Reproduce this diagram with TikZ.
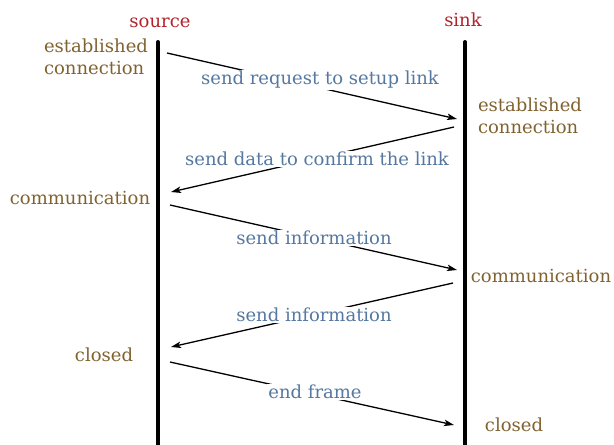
\documentclass[tikz,border=0pt]{standalone}
\usepackage{fontspec}
\setmainfont{DejaVu Serif}
\usetikzlibrary{arrows.meta}
\definecolor{titlered}{RGB}{178,34,44}
\definecolor{statebrown}{RGB}{128,98,48}
\definecolor{msgblue}{RGB}{85,120,160}
\tikzset{
  lifeline/.style={line width=4pt, line cap=round},
  msg/.style={line width=1.3pt, -{Stealth[length=10pt,width=6.5pt,inset=2.5pt]}},
  title/.style={text=titlered, font=\fontsize{18}{21}\selectfont, inner sep=0pt, anchor=base},
  state/.style={text=statebrown, font=\fontsize{18}{22}\selectfont, inner sep=0pt, align=left},
  msglabel/.style={text=msgblue, font=\fontsize{18}{21}\selectfont, fill=white, inner sep=1pt}
}
\begin{document}
\begin{tikzpicture}[x=1pt,y=-1pt]
\useasboundingbox (0,0) rectangle (614,445);
% lifelines
\coordinate (srcTop) at (158,42);
\coordinate (srcBot) at (158,447);
\coordinate (snkTop) at (465,42);
\coordinate (snkBot) at (465,447);
\draw[lifeline] (srcTop) -- (srcBot);
\draw[lifeline] (snkTop) -- (snkBot);
\node[title] (source) at (160,27) {source};
\node[title] (sink) at (463,26) {sink};
% states
\node[state] (srcEst) at (96,57) {established\\connection};
\node[state] (snkEst) at (530,116) {established\\connection};
\node[state] (srcCom) at (80,198) {communication};
\node[state] (snkCom) at (541,276) {communication};
\node[state] (srcClo) at (104,355) {closed};
\node[state] (snkClo) at (514,425) {closed};
% message end points
\coordinate (m1a) at (167,53);
\coordinate (m1b) at (457,119);
\coordinate (m2a) at (454,127);
\coordinate (m2b) at (171,192);
\coordinate (m3a) at (170,205);
\coordinate (m3b) at (457,270);
\coordinate (m4a) at (453,283);
\coordinate (m4b) at (171,347);
\coordinate (m5a) at (170,362);
\coordinate (m5b) at (454,425);
\draw[msg] (m1a) -- (m1b);
\draw[msg] (m2a) -- (m2b);
\draw[msg] (m3a) -- (m3b);
\draw[msg] (m4a) -- (m4b);
\draw[msg] (m5a) -- (m5b);
% message labels
\node[msglabel] (l1) at (320,80) {send request to setup link};
\node[msglabel] (l2) at (317,159) {send data to confirm the link};
\node[msglabel] (l3) at (314,238) {send information};
\node[msglabel] (l4) at (314,315) {send information};
\node[msglabel] (l5) at (315,392) {end frame};
\end{tikzpicture}
\end{document}
